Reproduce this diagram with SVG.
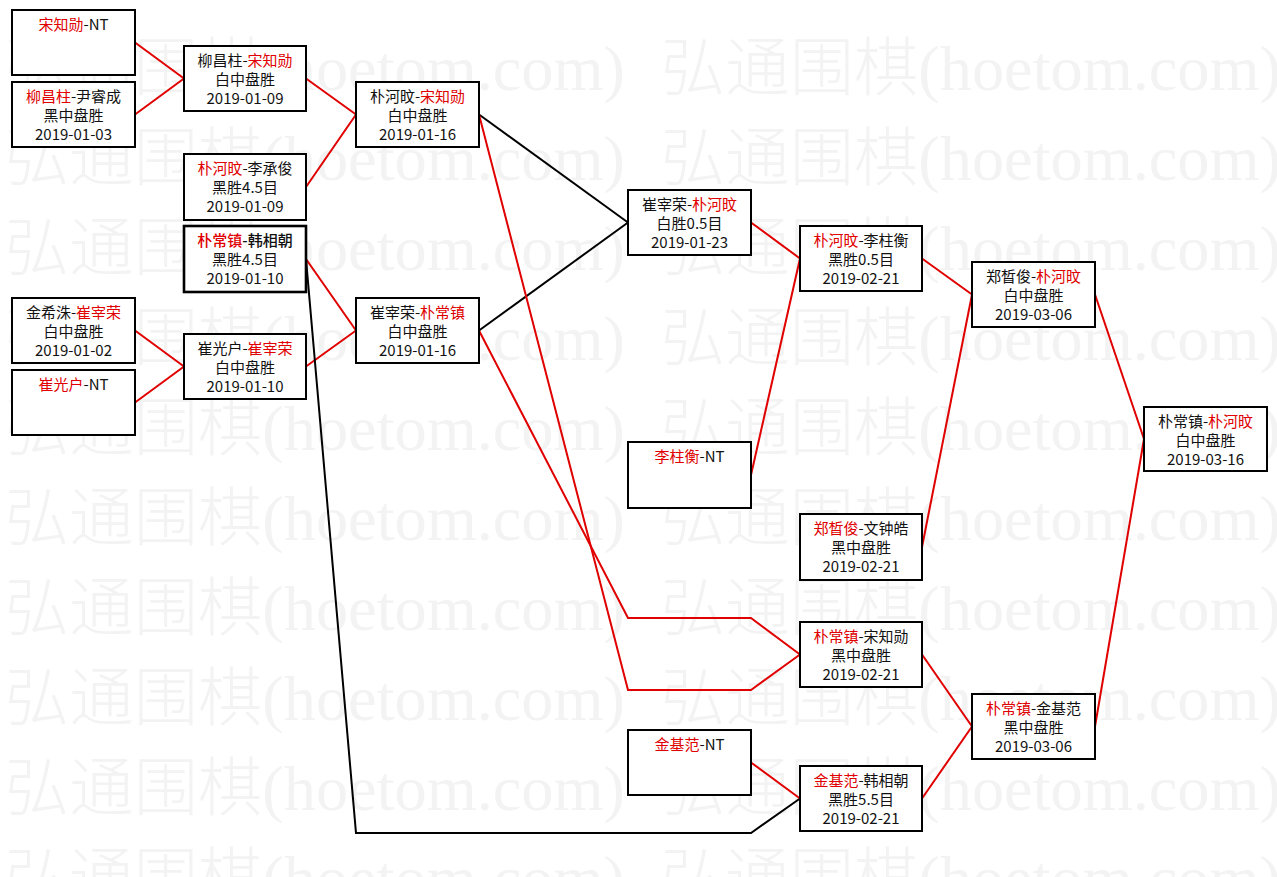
<svg xmlns="http://www.w3.org/2000/svg" width="1277" height="877" viewBox="0 0 1277 877">
<style>
.wm{font-family:"Liberation Serif","Noto Sans CJK SC",serif;font-size:64px;font-weight:300;fill:#f3f3f3}
.box{fill:#fff;stroke:#000;stroke-width:2}
.thick{stroke-width:2.6}
.t{font-family:"Noto Sans CJK SC","Liberation Sans",sans-serif;font-size:15px;fill:#111;text-anchor:middle}
.b{font-weight:500}
.r{fill:#e00000}
.cr{fill:none;stroke:#e00000;stroke-width:2;stroke-linejoin:miter}
.ck{fill:none;stroke:#000;stroke-width:2;stroke-linejoin:miter}
</style>
<rect x="0" y="0" width="1277" height="877" fill="#fff"/>
<g id="watermark">
<text class="wm" x="5" y="90" textLength="620" lengthAdjust="spacingAndGlyphs">弘通围棋(hoetom.com)</text>
<text class="wm" x="661" y="90" textLength="620" lengthAdjust="spacingAndGlyphs">弘通围棋(hoetom.com)</text>
<text class="wm" x="5" y="180" textLength="620" lengthAdjust="spacingAndGlyphs">弘通围棋(hoetom.com)</text>
<text class="wm" x="661" y="180" textLength="620" lengthAdjust="spacingAndGlyphs">弘通围棋(hoetom.com)</text>
<text class="wm" x="5" y="270" textLength="620" lengthAdjust="spacingAndGlyphs">弘通围棋(hoetom.com)</text>
<text class="wm" x="661" y="270" textLength="620" lengthAdjust="spacingAndGlyphs">弘通围棋(hoetom.com)</text>
<text class="wm" x="5" y="360" textLength="620" lengthAdjust="spacingAndGlyphs">弘通围棋(hoetom.com)</text>
<text class="wm" x="661" y="360" textLength="620" lengthAdjust="spacingAndGlyphs">弘通围棋(hoetom.com)</text>
<text class="wm" x="5" y="450" textLength="620" lengthAdjust="spacingAndGlyphs">弘通围棋(hoetom.com)</text>
<text class="wm" x="661" y="450" textLength="620" lengthAdjust="spacingAndGlyphs">弘通围棋(hoetom.com)</text>
<text class="wm" x="5" y="540" textLength="620" lengthAdjust="spacingAndGlyphs">弘通围棋(hoetom.com)</text>
<text class="wm" x="661" y="540" textLength="620" lengthAdjust="spacingAndGlyphs">弘通围棋(hoetom.com)</text>
<text class="wm" x="5" y="630" textLength="620" lengthAdjust="spacingAndGlyphs">弘通围棋(hoetom.com)</text>
<text class="wm" x="661" y="630" textLength="620" lengthAdjust="spacingAndGlyphs">弘通围棋(hoetom.com)</text>
<text class="wm" x="5" y="720" textLength="620" lengthAdjust="spacingAndGlyphs">弘通围棋(hoetom.com)</text>
<text class="wm" x="661" y="720" textLength="620" lengthAdjust="spacingAndGlyphs">弘通围棋(hoetom.com)</text>
<text class="wm" x="5" y="810" textLength="620" lengthAdjust="spacingAndGlyphs">弘通围棋(hoetom.com)</text>
<text class="wm" x="661" y="810" textLength="620" lengthAdjust="spacingAndGlyphs">弘通围棋(hoetom.com)</text>
<text class="wm" x="5" y="900" textLength="620" lengthAdjust="spacingAndGlyphs">弘通围棋(hoetom.com)</text>
<text class="wm" x="661" y="900" textLength="620" lengthAdjust="spacingAndGlyphs">弘通围棋(hoetom.com)</text>
</g>
<g id="connectors">
<polyline class="cr" points="135,42.5 184,78.5"/>
<polyline class="cr" points="135,114.5 184,78.5"/>
<polyline class="cr" points="135,330.5 184,366.5"/>
<polyline class="cr" points="135,402.5 184,366.5"/>
<polyline class="cr" points="306,78.5 356,114.5"/>
<polyline class="cr" points="306,187 356,114.5"/>
<polyline class="cr" points="306,259 356,330.5"/>
<polyline class="cr" points="306,366.5 356,330.5"/>
<polyline class="ck" points="479,114.5 628,222.5"/>
<polyline class="ck" points="479,330.5 628,222.5"/>
<polyline class="ck" points="306,259 356,833 751,833 800,798.5"/>
<polyline class="cr" points="479,114.5 628,690 751,690 800,654.5"/>
<polyline class="cr" points="479,330.5 628,618 751,618 800,654.5"/>
<polyline class="cr" points="751,222.5 800,258.5"/>
<polyline class="cr" points="751,475 800,258.5"/>
<polyline class="cr" points="751,762.5 800,798.5"/>
<polyline class="cr" points="922,258.5 972,294.5"/>
<polyline class="cr" points="922,547 972,294.5"/>
<polyline class="cr" points="922,654.5 972,726.5"/>
<polyline class="cr" points="922,798.5 972,726.5"/>
<polyline class="cr" points="1095,294.5 1144,439"/>
<polyline class="cr" points="1095,726.5 1144,439"/>
</g>
<g id="n-a1"><rect class="box" x="12" y="10" width="123" height="65"/>
<text class="t" x="73.5" y="30"><tspan class="r">宋知勋</tspan>-NT</text></g>
<g id="n-a2"><rect class="box" x="12" y="82" width="123" height="65"/>
<text class="t" x="73.5" y="102"><tspan class="r">柳昌柱</tspan>-尹睿成</text>
<text class="t" x="73.5" y="121">黑中盘胜</text>
<text class="t" x="73.5" y="140">2019-01-03</text></g>
<g id="n-a3"><rect class="box" x="12" y="298" width="123" height="65"/>
<text class="t" x="73.5" y="318">金希洙-<tspan class="r">崔宰荣</tspan></text>
<text class="t" x="73.5" y="337">白中盘胜</text>
<text class="t" x="73.5" y="356">2019-01-02</text></g>
<g id="n-a4"><rect class="box" x="12" y="370" width="123" height="65"/>
<text class="t" x="73.5" y="390"><tspan class="r">崔光户</tspan>-NT</text></g>
<g id="n-b1"><rect class="box" x="184" y="46" width="122" height="65"/>
<text class="t" x="245" y="66">柳昌柱-<tspan class="r">宋知勋</tspan></text>
<text class="t" x="245" y="85">白中盘胜</text>
<text class="t" x="245" y="104">2019-01-09</text></g>
<g id="n-b2"><rect class="box" x="184" y="154" width="122" height="66"/>
<text class="t" x="245" y="174"><tspan class="r">朴河旼</tspan>-李承俊</text>
<text class="t" x="245" y="193">黑胜4.5目</text>
<text class="t" x="245" y="212">2019-01-09</text></g>
<g id="n-b3"><rect class="box thick" x="184" y="226" width="122" height="66"/>
<text class="t b" x="245" y="246"><tspan class="r">朴常镇</tspan>-韩相朝</text>
<text class="t" x="245" y="265">黑胜4.5目</text>
<text class="t" x="245" y="284">2019-01-10</text></g>
<g id="n-b4"><rect class="box" x="184" y="334" width="122" height="65"/>
<text class="t" x="245" y="354">崔光户-<tspan class="r">崔宰荣</tspan></text>
<text class="t" x="245" y="373">白中盘胜</text>
<text class="t" x="245" y="392">2019-01-10</text></g>
<g id="n-c1"><rect class="box" x="356" y="82" width="123" height="65"/>
<text class="t" x="417.5" y="102">朴河旼-<tspan class="r">宋知勋</tspan></text>
<text class="t" x="417.5" y="121">白中盘胜</text>
<text class="t" x="417.5" y="140">2019-01-16</text></g>
<g id="n-c2"><rect class="box" x="356" y="298" width="123" height="65"/>
<text class="t" x="417.5" y="318">崔宰荣-<tspan class="r">朴常镇</tspan></text>
<text class="t" x="417.5" y="337">白中盘胜</text>
<text class="t" x="417.5" y="356">2019-01-16</text></g>
<g id="n-d1"><rect class="box" x="628" y="190" width="123" height="65"/>
<text class="t" x="689.5" y="210">崔宰荣-<tspan class="r">朴河旼</tspan></text>
<text class="t" x="689.5" y="229">白胜0.5目</text>
<text class="t" x="689.5" y="248">2019-01-23</text></g>
<g id="n-d2"><rect class="box" x="628" y="442" width="123" height="66"/>
<text class="t" x="689.5" y="462"><tspan class="r">李柱衡</tspan>-NT</text></g>
<g id="n-d3"><rect class="box" x="628" y="730" width="123" height="65"/>
<text class="t" x="689.5" y="750"><tspan class="r">金基范</tspan>-NT</text></g>
<g id="n-e1"><rect class="box" x="800" y="226" width="122" height="65"/>
<text class="t" x="861" y="246"><tspan class="r">朴河旼</tspan>-李柱衡</text>
<text class="t" x="861" y="265">黑胜0.5目</text>
<text class="t" x="861" y="284">2019-02-21</text></g>
<g id="n-e2"><rect class="box" x="800" y="514" width="122" height="66"/>
<text class="t" x="861" y="534"><tspan class="r">郑晳俊</tspan>-文钟皓</text>
<text class="t" x="861" y="553">黑中盘胜</text>
<text class="t" x="861" y="572">2019-02-21</text></g>
<g id="n-e3"><rect class="box" x="800" y="622" width="122" height="65"/>
<text class="t" x="861" y="642"><tspan class="r">朴常镇</tspan>-宋知勋</text>
<text class="t" x="861" y="661">黑中盘胜</text>
<text class="t" x="861" y="680">2019-02-21</text></g>
<g id="n-e4"><rect class="box" x="800" y="766" width="122" height="65"/>
<text class="t" x="861" y="786"><tspan class="r">金基范</tspan>-韩相朝</text>
<text class="t" x="861" y="805">黑胜5.5目</text>
<text class="t" x="861" y="824">2019-02-21</text></g>
<g id="n-f1"><rect class="box" x="972" y="262" width="123" height="65"/>
<text class="t" x="1033.5" y="282">郑晳俊-<tspan class="r">朴河旼</tspan></text>
<text class="t" x="1033.5" y="301">白中盘胜</text>
<text class="t" x="1033.5" y="320">2019-03-06</text></g>
<g id="n-f2"><rect class="box" x="972" y="694" width="123" height="65"/>
<text class="t" x="1033.5" y="714"><tspan class="r">朴常镇</tspan>-金基范</text>
<text class="t" x="1033.5" y="733">黑中盘胜</text>
<text class="t" x="1033.5" y="752">2019-03-06</text></g>
<g id="n-g1"><rect class="box" x="1144" y="407" width="123" height="64"/>
<text class="t" x="1205.5" y="427">朴常镇-<tspan class="r">朴河旼</tspan></text>
<text class="t" x="1205.5" y="446">白中盘胜</text>
<text class="t" x="1205.5" y="465">2019-03-16</text></g>
</svg>
